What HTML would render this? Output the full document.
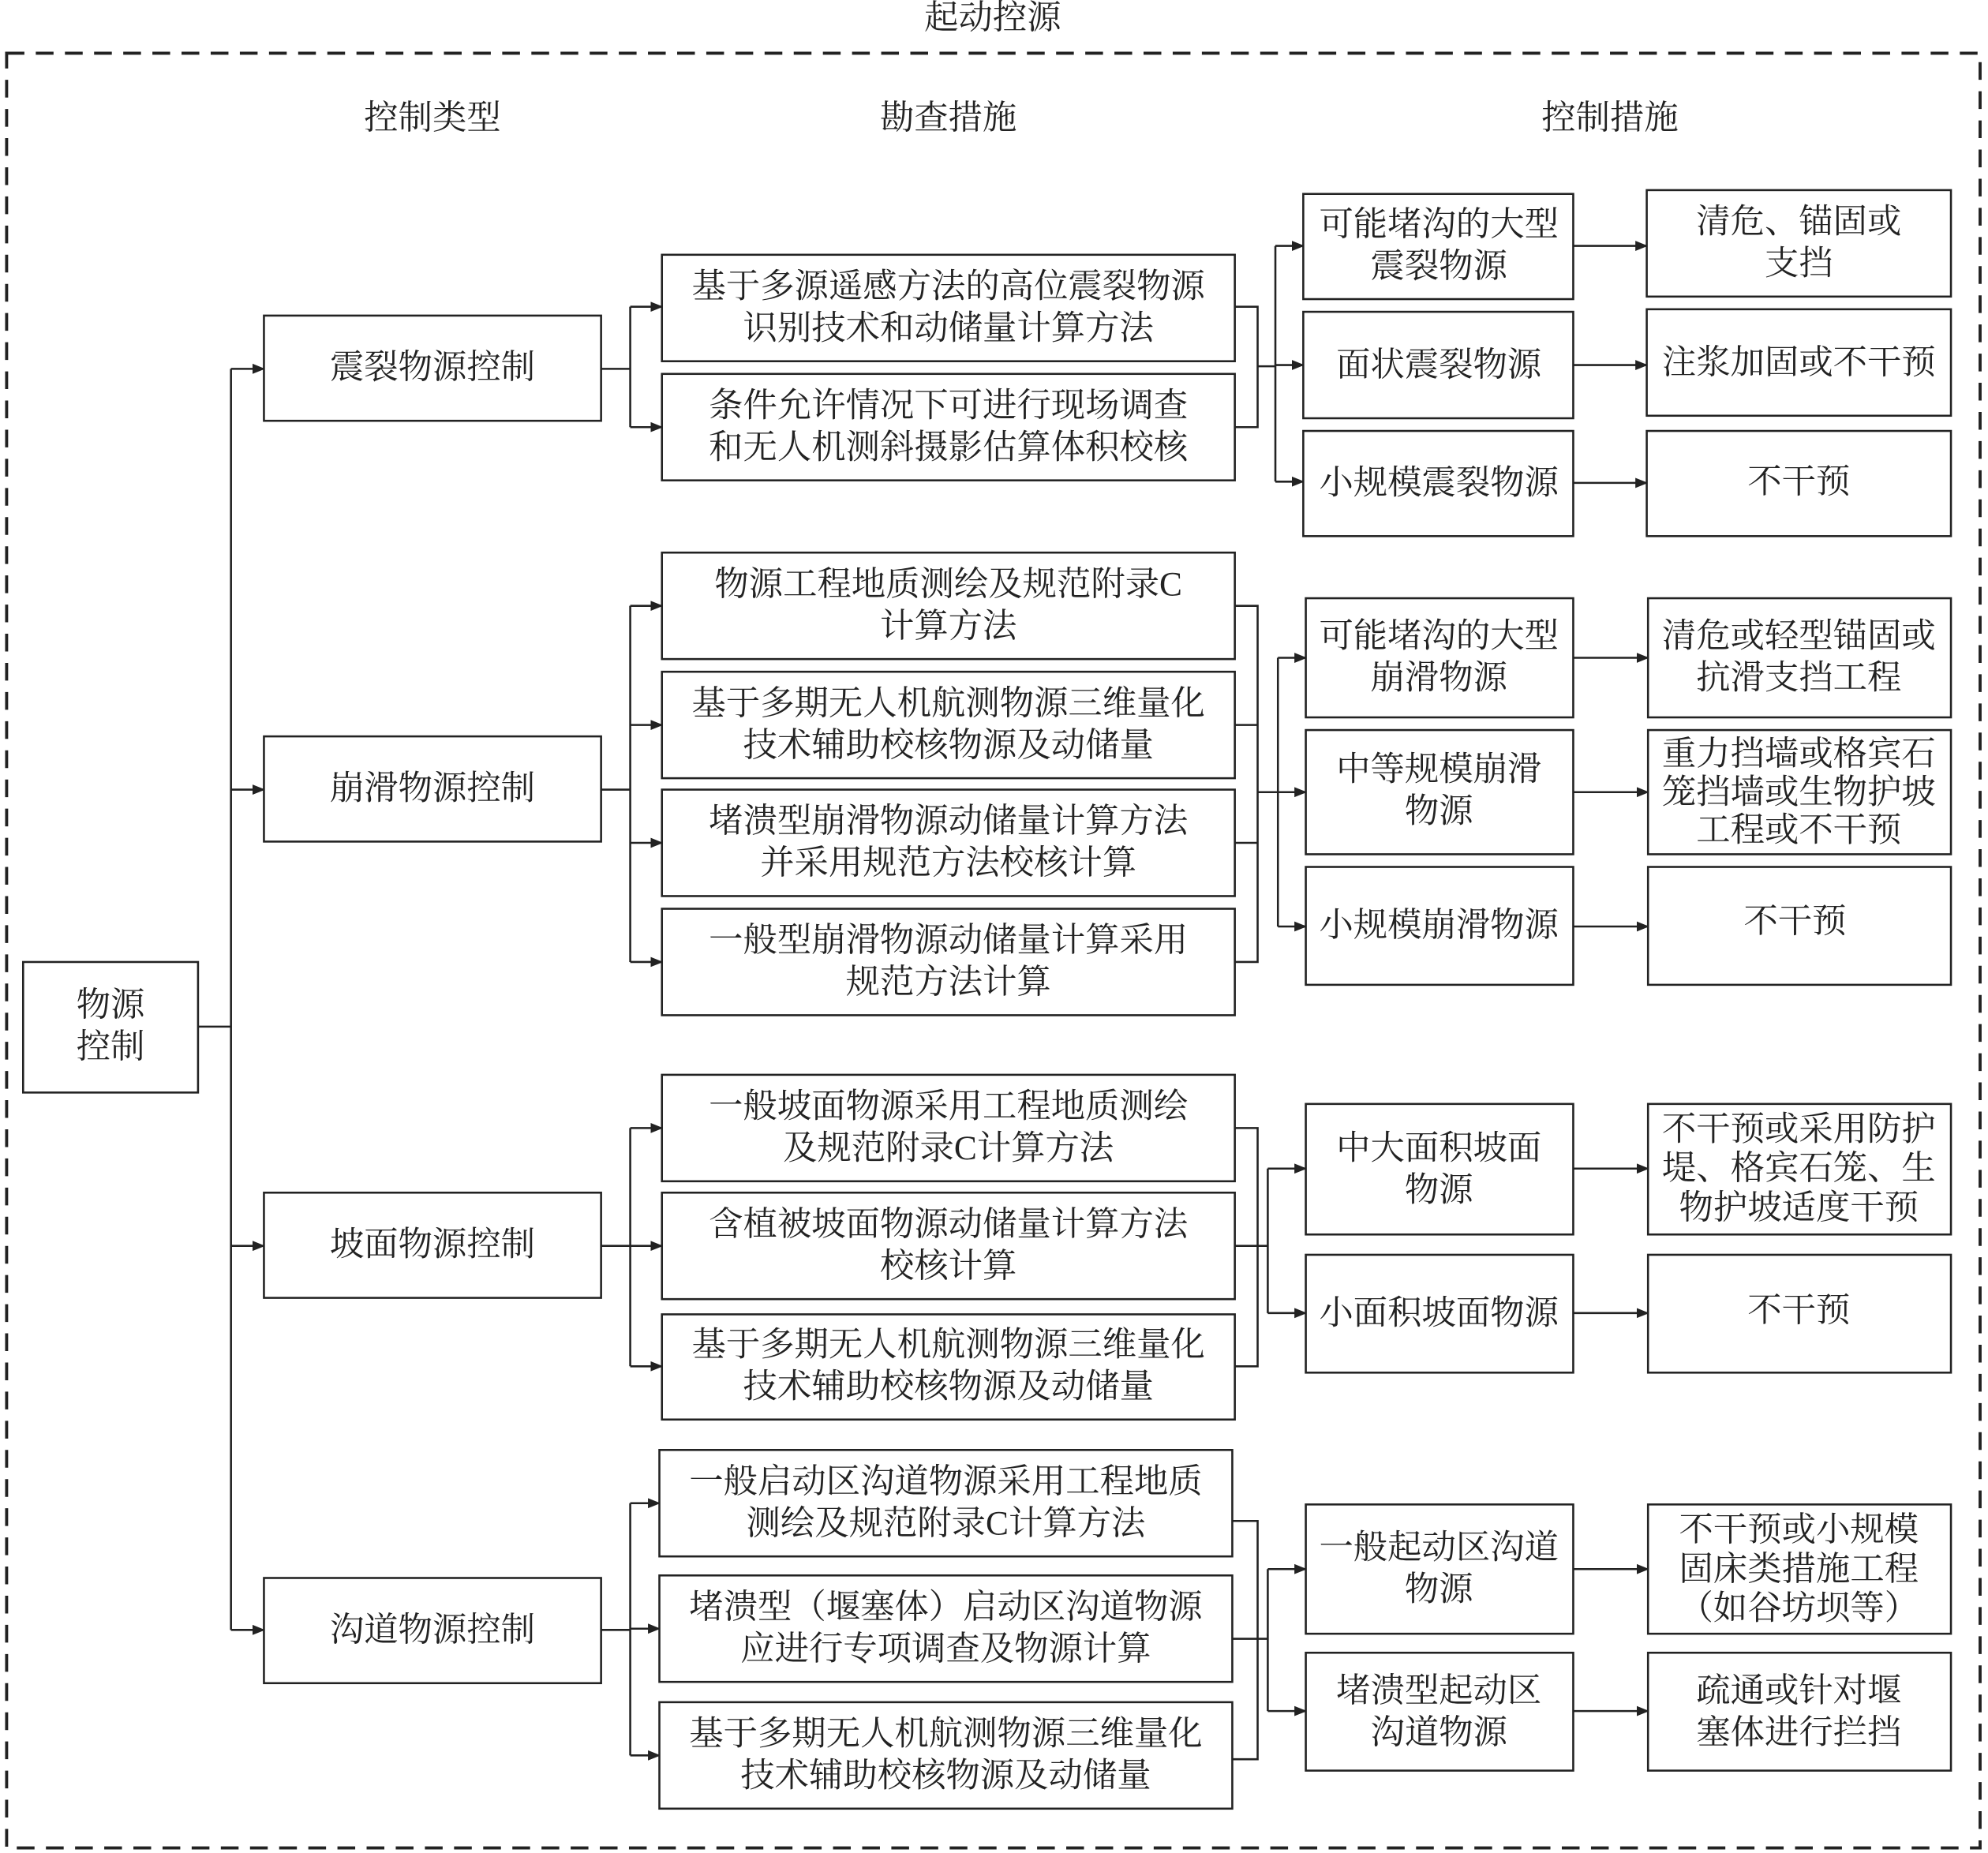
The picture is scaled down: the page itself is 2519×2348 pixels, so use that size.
<!DOCTYPE html>
<html><head><meta charset="utf-8"><style>
html,body{margin:0;padding:0;background:#fff}
svg{display:block}
text{font-family:"Liberation Serif","Noto Serif CJK SC","Noto Sans CJK SC",serif;font-size:27px;fill:#222;text-anchor:middle;dominant-baseline:central}
.b{fill:#fff;stroke:#222;stroke-width:1.6}
.l{stroke:#222;stroke-width:1.6;fill:none}
</style></head><body>
<svg width="2519" height="2348" viewBox="0 0 1568 1462" xmlns="http://www.w3.org/2000/svg">
<defs><marker id="a" markerWidth="10" markerHeight="10" refX="9" refY="5" orient="auto" markerUnits="userSpaceOnUse"><path d="M0,1 L10,5 L0,9 Z" fill="#222"/></marker></defs>
<text x="783" y="14">起动控源</text>
<rect x="5" y="42" width="1557" height="1416" fill="none" stroke="#222" stroke-width="2.4" stroke-dasharray="14,9"/>
<text x="341" y="93">控制类型</text><text x="748" y="93">勘查措施</text><text x="1270" y="93">控制措施</text>

<!-- root -->
<rect class="b" x="18" y="759" width="138" height="103"/>
<text x="87" y="793">物源</text><text x="87" y="826">控制</text>
<path class="l" d="M156,810 H182 M182,291 V1286"/>
<path class="l" d="M182,291 H208" marker-end="url(#a)"/>
<path class="l" d="M182,623 H208" marker-end="url(#a)"/>
<path class="l" d="M182,983 H208" marker-end="url(#a)"/>
<path class="l" d="M182,1286 H208" marker-end="url(#a)"/>

<!-- categories -->
<rect class="b" x="208" y="249" width="266" height="83"/><text x="341" y="290">震裂物源控制</text>
<rect class="b" x="208" y="581" width="266" height="83"/><text x="341" y="622">崩滑物源控制</text>
<rect class="b" x="208" y="941" width="266" height="83"/><text x="341" y="982">坡面物源控制</text>
<rect class="b" x="208" y="1245" width="266" height="83"/><text x="341" y="1286">沟道物源控制</text>

<!-- group1 -->
<path class="l" d="M474,291 H497 M497,242 V337"/>
<path class="l" d="M497,242 H522" marker-end="url(#a)"/><path class="l" d="M497,337 H522" marker-end="url(#a)"/>
<rect class="b" x="522" y="201" width="452" height="84"/><text x="748" y="226">基于多源遥感方法的高位震裂物源</text><text x="748" y="259">识别技术和动储量计算方法</text>
<rect class="b" x="522" y="295" width="452" height="84"/><text x="748" y="320">条件允许情况下可进行现场调查</text><text x="748" y="353">和无人机测斜摄影估算体积校核</text>
<path class="l" d="M974,242 H992 V337 H974 M992,289 H1006 M1006,194 V380"/>
<path class="l" d="M1006,194 H1028" marker-end="url(#a)"/><path class="l" d="M1006,288 H1028" marker-end="url(#a)"/><path class="l" d="M1006,380 H1028" marker-end="url(#a)"/>
<rect class="b" x="1028" y="153" width="213" height="83"/><text x="1135" y="177">可能堵沟的大型</text><text x="1135" y="210">震裂物源</text>
<rect class="b" x="1028" y="246" width="213" height="84"/><text x="1135" y="288">面状震裂物源</text>
<rect class="b" x="1028" y="340" width="213" height="83"/><text x="1135" y="381">小规模震裂物源</text>
<path class="l" d="M1241,194 H1299" marker-end="url(#a)"/><path class="l" d="M1241,288 H1299" marker-end="url(#a)"/><path class="l" d="M1241,381 H1299" marker-end="url(#a)"/>
<rect class="b" x="1299" y="150" width="240" height="84"/><text x="1419" y="175">清危、锚固或</text><text x="1419" y="208">支挡</text>
<rect class="b" x="1299" y="244" width="240" height="84"/><text x="1419" y="286">注浆加固或不干预</text>
<rect class="b" x="1299" y="340" width="240" height="83"/><text x="1419" y="380">不干预</text>

<!-- group2 -->
<path class="l" d="M474,623 H497 M497,478 V759"/>
<path class="l" d="M497,478 H522" marker-end="url(#a)"/><path class="l" d="M497,572 H522" marker-end="url(#a)"/><path class="l" d="M497,665 H522" marker-end="url(#a)"/><path class="l" d="M497,759 H522" marker-end="url(#a)"/>
<rect class="b" x="522" y="436" width="452" height="84"/><text x="748" y="461">物源工程地质测绘及规范附录C</text><text x="748" y="494">计算方法</text>
<rect class="b" x="522" y="530" width="452" height="84"/><text x="748" y="555">基于多期无人机航测物源三维量化</text><text x="748" y="588">技术辅助校核物源及动储量</text>
<rect class="b" x="522" y="623" width="452" height="84"/><text x="748" y="648">堵溃型崩滑物源动储量计算方法</text><text x="748" y="681">并采用规范方法校核计算</text>
<rect class="b" x="522" y="717" width="452" height="84"/><text x="748" y="742">一般型崩滑物源动储量计算采用</text><text x="748" y="775">规范方法计算</text>
<path class="l" d="M974,478 H992 V759 H974 M974,572 H992 M974,665 H992 M992,625 H1008 M1008,519 V731"/>
<path class="l" d="M1008,519 H1030" marker-end="url(#a)"/><path class="l" d="M1008,625 H1030" marker-end="url(#a)"/><path class="l" d="M1008,731 H1030" marker-end="url(#a)"/>
<rect class="b" x="1030" y="472" width="211" height="94"/><text x="1135" y="502">可能堵沟的大型</text><text x="1135" y="535">崩滑物源</text>
<rect class="b" x="1030" y="576" width="211" height="98"/><text x="1135" y="607">中等规模崩滑</text><text x="1135" y="640">物源</text>
<rect class="b" x="1030" y="684" width="211" height="93"/><text x="1135" y="730">小规模崩滑物源</text>
<path class="l" d="M1241,519 H1300" marker-end="url(#a)"/><path class="l" d="M1241,625 H1300" marker-end="url(#a)"/><path class="l" d="M1241,731 H1300" marker-end="url(#a)"/>
<rect class="b" x="1300" y="472" width="239" height="94"/><text x="1419" y="502">清危或轻型锚固或</text><text x="1419" y="535">抗滑支挡工程</text>
<rect class="b" x="1300" y="576" width="239" height="98"/><text x="1419" y="595">重力挡墙或格宾石</text><text x="1419" y="625">笼挡墙或生物护坡</text><text x="1419" y="655">工程或不干预</text>
<rect class="b" x="1300" y="684" width="239" height="93"/><text x="1416" y="727">不干预</text>

<!-- group3 -->
<path class="l" d="M474,983 H497 M497,890 V1078"/>
<path class="l" d="M497,890 H522" marker-end="url(#a)"/><path class="l" d="M497,983 H522" marker-end="url(#a)"/><path class="l" d="M497,1078 H522" marker-end="url(#a)"/>
<rect class="b" x="522" y="848" width="452" height="84"/><text x="748" y="873">一般坡面物源采用工程地质测绘</text><text x="748" y="906">及规范附录C计算方法</text>
<rect class="b" x="522" y="941" width="452" height="84"/><text x="748" y="966">含植被坡面物源动储量计算方法</text><text x="748" y="999">校核计算</text>
<rect class="b" x="522" y="1037" width="452" height="83"/><text x="748" y="1061">基于多期无人机航测物源三维量化</text><text x="748" y="1094">技术辅助校核物源及动储量</text>
<path class="l" d="M974,890 H992 V1078 H974 M974,983 H1000 M1000,922 V1036"/>
<path class="l" d="M1000,922 H1030" marker-end="url(#a)"/><path class="l" d="M1000,1036 H1030" marker-end="url(#a)"/>
<rect class="b" x="1030" y="871" width="211" height="103"/><text x="1135" y="906">中大面积坡面</text><text x="1135" y="939">物源</text>
<rect class="b" x="1030" y="990" width="211" height="93"/><text x="1135" y="1036">小面积坡面物源</text>
<path class="l" d="M1241,922 H1300" marker-end="url(#a)"/><path class="l" d="M1241,1036 H1300" marker-end="url(#a)"/>
<rect class="b" x="1300" y="871" width="239" height="103"/><text x="1419" y="891">不干预或采用防护</text><text x="1419" y="922">堤、格宾石笼、生</text><text x="1419" y="953">物护坡适度干预</text>
<rect class="b" x="1300" y="990" width="239" height="93"/><text x="1419" y="1034">不干预</text>

<!-- group4 -->
<path class="l" d="M474,1286 H497 M497,1186 V1385"/>
<path class="l" d="M497,1186 H520" marker-end="url(#a)"/><path class="l" d="M497,1285 H520" marker-end="url(#a)"/><path class="l" d="M497,1385 H520" marker-end="url(#a)"/>
<rect class="b" x="520" y="1144" width="452" height="84"/><text x="746" y="1169">一般启动区沟道物源采用工程地质</text><text x="746" y="1202">测绘及规范附录C计算方法</text>
<rect class="b" x="520" y="1243" width="452" height="84"/><text x="746" y="1268">堵溃型（堰塞体）启动区沟道物源</text><text x="746" y="1301">应进行专项调查及物源计算</text>
<rect class="b" x="520" y="1343" width="452" height="84"/><text x="746" y="1368">基于多期无人机航测物源三维量化</text><text x="746" y="1401">技术辅助校核物源及动储量</text>
<path class="l" d="M972,1200 H992 V1388 H972 M972,1293 H1000 M1000,1238 V1350"/>
<path class="l" d="M1000,1238 H1030" marker-end="url(#a)"/><path class="l" d="M1000,1350 H1030" marker-end="url(#a)"/>
<rect class="b" x="1030" y="1187" width="211" height="102"/><text x="1135" y="1221">一般起动区沟道</text><text x="1135" y="1254">物源</text>
<rect class="b" x="1030" y="1304" width="211" height="93"/><text x="1135" y="1334">堵溃型起动区</text><text x="1135" y="1367">沟道物源</text>
<path class="l" d="M1241,1238 H1300" marker-end="url(#a)"/><path class="l" d="M1241,1350 H1300" marker-end="url(#a)"/>
<rect class="b" x="1300" y="1187" width="239" height="102"/><text x="1419" y="1207">不干预或小规模</text><text x="1419" y="1238">固床类措施工程</text><text x="1419" y="1269">（如谷坊坝等）</text>
<rect class="b" x="1300" y="1304" width="239" height="93"/><text x="1419" y="1334">疏通或针对堰</text><text x="1419" y="1367">塞体进行拦挡</text>
</svg>
</body></html>
